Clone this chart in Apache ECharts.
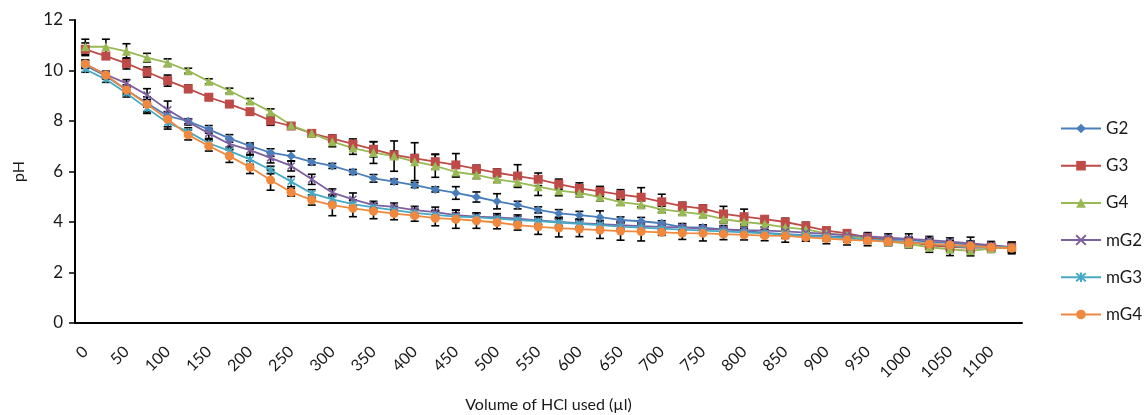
<!DOCTYPE html>
<html>
<head>
<meta charset="utf-8">
<script src="https://cdn.jsdelivr.net/npm/echarts@6/dist/echarts.min.js"></script>
<style>
  html, body { margin: 0; padding: 0; background: #ffffff; }
  #chart { width: 1144px; height: 415px; }
</style>
</head>
<body>
<div id="chart"></div>
<script>
// Volume of HCl added (µl), one reading every 25 µl
const volumes = ['0','25','50','75','100','125','150','175','200','225','250','275','300','325','350','375',
  '400','425','450','475','500','525','550','575','600','625','650','675','700','725','750','775',
  '800','825','850','875','900','925','950','975','1000','1025','1050','1075','1100','1125'];

// Mean pH for each formulation
const G2 = [10.20,9.78,9.23,8.70,8.20,7.99,7.67,7.31,7.01,6.75,6.61,6.38,6.22,5.98,5.73,5.60,
  5.46,5.29,5.15,4.99,4.82,4.67,4.48,4.34,4.27,4.19,4.08,4.03,3.95,3.80,3.78,3.71,
  3.65,3.57,3.52,3.48,3.44,3.40,3.37,3.33,3.28,3.22,3.16,3.10,3.04,3.00];
const G3 = [10.84,10.57,10.28,9.94,9.60,9.28,8.94,8.67,8.37,8.01,7.80,7.51,7.30,7.09,6.88,6.66,
  6.52,6.39,6.26,6.10,5.95,5.82,5.69,5.50,5.33,5.21,5.08,4.98,4.80,4.63,4.53,4.32,
  4.21,4.11,4.00,3.84,3.66,3.55,3.39,3.26,3.20,3.08,3.02,2.98,3.00,3.00];
const G4 = [10.94,10.94,10.76,10.51,10.31,9.99,9.57,9.20,8.79,8.36,7.83,7.51,7.18,6.93,6.75,6.61,
  6.39,6.22,5.98,5.87,5.69,5.57,5.40,5.24,5.15,4.99,4.79,4.69,4.50,4.40,4.30,4.11,
  4.00,3.92,3.79,3.71,3.55,3.47,3.31,3.22,3.13,3.00,2.92,2.86,2.95,3.00];
const mG2 = [10.26,9.84,9.49,9.03,8.44,7.96,7.51,7.09,6.85,6.54,6.22,5.69,5.16,4.90,4.67,4.60,
  4.47,4.39,4.27,4.21,4.18,4.13,4.06,4.00,3.95,3.91,3.88,3.84,3.81,3.79,3.73,3.71,
  3.68,3.66,3.63,3.58,3.53,3.48,3.43,3.38,3.33,3.28,3.22,3.15,3.08,3.00];
const mG3 = [10.05,9.65,9.10,8.50,7.93,7.58,7.12,6.82,6.48,6.06,5.60,5.13,4.90,4.71,4.58,4.47,
  4.36,4.28,4.21,4.18,4.13,4.08,4.04,3.98,3.93,3.88,3.82,3.78,3.74,3.70,3.66,3.63,
  3.59,3.55,3.50,3.45,3.40,3.35,3.30,3.26,3.20,3.14,3.06,3.00,3.00,3.00];
const mG4 = [10.26,9.82,9.23,8.66,8.07,7.45,7.01,6.61,6.17,5.66,5.18,4.87,4.67,4.54,4.43,4.33,
  4.25,4.15,4.11,4.05,3.98,3.88,3.81,3.76,3.72,3.68,3.64,3.62,3.59,3.56,3.55,3.52,
  3.49,3.46,3.45,3.39,3.34,3.29,3.26,3.22,3.18,3.13,3.09,3.05,3.00,2.96];

// Standard deviations (error bar half-lengths)
const G2sd = [0.12,0.10,0.12,0.15,0.15,0.10,0.15,0.15,0.12,0.15,0.20,0.12,0.10,0.10,0.15,0.10,
  0.10,0.10,0.25,0.20,0.30,0.15,0.12,0.15,0.15,0.25,0.12,0.15,0.10,0.12,0.10,0.12,
  0.10,0.10,0.12,0.12,0.15,0.10,0.12,0.10,0.12,0.15,0.12,0.15,0.15,0.20];
const G3sd = [0.25,0.12,0.22,0.20,0.22,0.15,0.12,0.10,0.10,0.18,0.10,0.12,0.15,0.20,0.30,0.15,
  0.15,0.30,0.45,0.15,0.15,0.45,0.25,0.20,0.22,0.20,0.20,0.38,0.30,0.15,0.15,0.30,
  0.30,0.12,0.15,0.15,0.12,0.12,0.15,0.15,0.12,0.15,0.20,0.20,0.15,0.20];
const G4sd = [0.30,0.30,0.30,0.17,0.15,0.10,0.10,0.10,0.10,0.12,0.10,0.10,0.20,0.25,0.43,0.60,
  0.75,0.45,0.20,0.15,0.12,0.15,0.35,0.20,0.15,0.15,0.12,0.15,0.12,0.12,0.12,0.15,
  0.12,0.12,0.15,0.15,0.15,0.12,0.15,0.15,0.15,0.20,0.25,0.20,0.15,0.15];
const mG2sd = [0.15,0.12,0.15,0.25,0.35,0.12,0.20,0.20,0.20,0.20,0.20,0.20,0.15,0.25,0.15,0.15,
  0.15,0.20,0.20,0.15,0.15,0.15,0.15,0.15,0.15,0.15,0.15,0.15,0.15,0.15,0.15,0.15,
  0.15,0.15,0.15,0.15,0.15,0.15,0.15,0.15,0.20,0.15,0.15,0.25,0.15,0.15];
const mG3sd = [0.12,0.12,0.15,0.20,0.25,0.15,0.15,0.15,0.20,0.15,0.20,0.15,0.15,0.15,0.15,0.15,
  0.15,0.15,0.15,0.15,0.15,0.15,0.15,0.15,0.15,0.15,0.15,0.15,0.15,0.15,0.15,0.15,
  0.15,0.15,0.15,0.15,0.15,0.15,0.15,0.15,0.15,0.20,0.20,0.15,0.15,0.15];
const mG4sd = [0.15,0.15,0.20,0.30,0.30,0.20,0.20,0.25,0.25,0.40,0.15,0.20,0.42,0.33,0.30,0.24,
  0.22,0.30,0.36,0.30,0.25,0.20,0.30,0.35,0.30,0.33,0.36,0.37,0.12,0.25,0.30,0.22,
  0.20,0.20,0.25,0.15,0.20,0.20,0.20,0.15,0.20,0.20,0.15,0.20,0.20,0.22];

const yTicks = { min: 0, max: 12, step: 2 };

const colors = {
  G2: '#4a7ebb', G3: '#be4b48', G4: '#98b954',
  mG2: '#7d60a0', mG3: '#46aac5', mG4: '#f0883e'
};

const textColor = '#1a1a1a';
const fontFamily = 'Lato, "Open Sans", sans-serif';

function lineSeries(name, values, symbol, size, stroked) {
  const s = {
    name: name,
    type: 'line',
    data: values,
    symbol: symbol,
    symbolSize: size,
    showAllSymbol: true,
    z: 3,
    lineStyle: { color: colors[name], width: 1.8 },
    itemStyle: { color: colors[name] }
  };
  if (stroked) {
    s.itemStyle.borderColor = colors[name];
    s.itemStyle.borderWidth = 1.6;
  }
  return s;
}

function errorBars(name, values, sds) {
  return {
    name: name + ' SD',
    type: 'custom',
    silent: true,
    z: 2,
    encode: { x: 0, y: [1] },
    data: values.map((v, i) => [i, v, sds[i]]),
    renderItem: function (params, api) {
      const i = api.value(0), v = api.value(1), e = api.value(2);
      const hi = api.coord([i, v + e]);
      const lo = api.coord([i, v - e]);
      const cap = 4;
      const st = { stroke: '#000', lineWidth: 1.6 };
      return {
        type: 'group',
        children: [
          { type: 'line', shape: { x1: hi[0], y1: hi[1], x2: lo[0], y2: lo[1] }, style: st },
          { type: 'line', shape: { x1: hi[0] - cap, y1: hi[1], x2: hi[0] + cap, y2: hi[1] }, style: st },
          { type: 'line', shape: { x1: lo[0] - cap, y1: lo[1], x2: lo[0] + cap, y2: lo[1] }, style: st }
        ]
      };
    }
  };
}

const crossPath = 'path://M0,0L10,10M10,0L0,10';
const starPath = 'path://M0,0L10,10M10,0L0,10M5,-1L5,11';

const chart = echarts.init(document.getElementById('chart'), null, { renderer: 'canvas' });

chart.setOption({
  animation: false,
  backgroundColor: '#ffffff',
  textStyle: { fontFamily: fontFamily, color: textColor },
  grid: { left: 75, right: 122, top: 20, bottom: 92, containLabel: false, outerBoundsMode: 'none' },
  legend: {
    data: ['G2', 'G3', 'G4', 'mG2', 'mG3', 'mG4'],
    orient: 'vertical',
    left: 1060,
    top: 120,
    padding: 0,
    itemWidth: 40,
    itemHeight: 12,
    itemGap: 20.2,
    textStyle: { fontFamily: fontFamily, fontSize: 17, color: textColor }
  },
  xAxis: {
    type: 'category',
    data: volumes,
    boundaryGap: true,
    name: 'Volume of HCl used (µl)',
    nameLocation: 'middle',
    nameGap: 74,
    nameTextStyle: { fontFamily: fontFamily, fontSize: 16, color: textColor },
    axisLine: { lineStyle: { color: '#000', width: 2 } },
    axisTick: { interval: 0, length: 6, lineStyle: { color: '#000', width: 1.5 } },
    axisLabel: { interval: 1, rotate: 45, margin: 26, fontSize: 16, color: textColor, fontFamily: fontFamily },
    splitLine: { show: false }
  },
  yAxis: {
    type: 'value',
    min: yTicks.min,
    max: yTicks.max,
    interval: yTicks.step,
    name: 'pH',
    nameLocation: 'middle',
    nameGap: 48,
    nameRotate: 90,
    nameTextStyle: { fontFamily: fontFamily, fontSize: 16, color: textColor },
    axisLine: { show: true, lineStyle: { color: '#000', width: 2 } },
    axisTick: { show: true, length: 6, lineStyle: { color: '#000', width: 1.5 } },
    axisLabel: { fontSize: 17, color: textColor, margin: 12, fontFamily: fontFamily },
    splitLine: { show: false }
  },
  series: [
    errorBars('G2', G2, G2sd),
    errorBars('G3', G3, G3sd),
    errorBars('G4', G4, G4sd),
    errorBars('mG2', mG2, mG2sd),
    errorBars('mG3', mG3, mG3sd),
    errorBars('mG4', mG4, mG4sd),
    lineSeries('G2', G2, 'diamond', 9, false),
    lineSeries('G3', G3, 'rect', 9, false),
    lineSeries('G4', G4, 'triangle', 9, false),
    lineSeries('mG2', mG2, crossPath, 7, true),
    lineSeries('mG3', mG3, starPath, 7, true),
    lineSeries('mG4', mG4, 'circle', 9, false)
  ]
});
</script>
</body>
</html>
